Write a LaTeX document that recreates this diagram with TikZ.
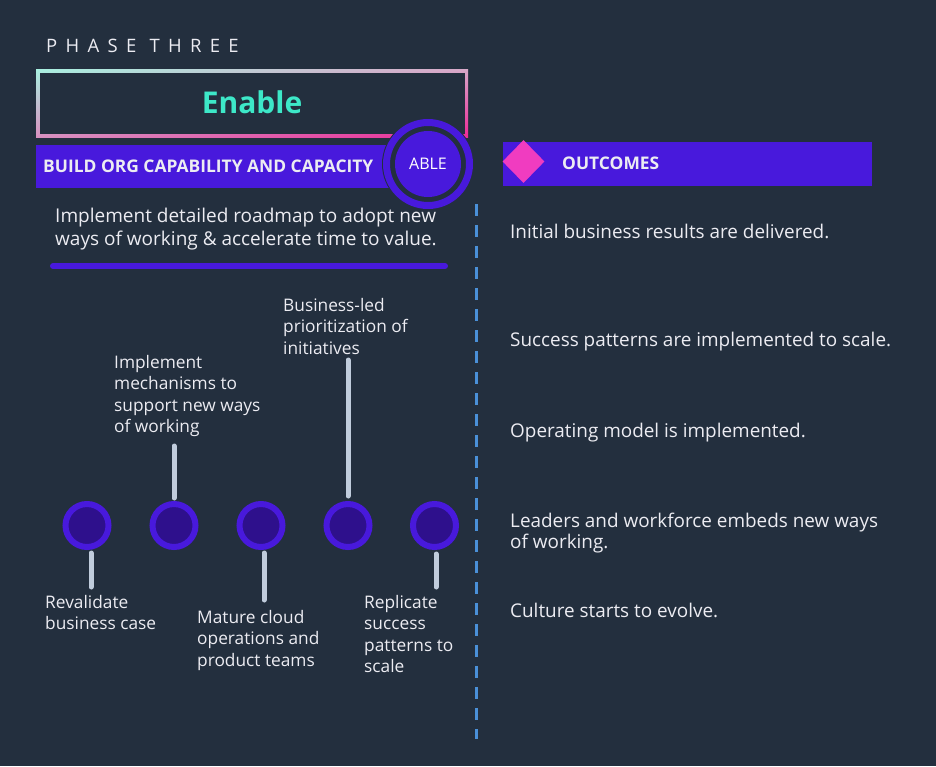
\documentclass[tikz,border=0pt]{standalone}
\usepackage{fontspec}
\setmainfont{Open Sans}
\usetikzlibrary{shapes.geometric,shadings}
\definecolor{bg}{HTML}{232F3E}
\definecolor{purp}{HTML}{4819DC}
\definecolor{darkpurp}{HTML}{2E108C}
\definecolor{pinkd}{HTML}{F03CC0}
\definecolor{txt}{HTML}{ECECF2}
\definecolor{teal}{HTML}{3DE8C8}
\definecolor{conn}{HTML}{C0CCDC}
\definecolor{dashblue}{HTML}{4A90D8}
\definecolor{gUL}{HTML}{A8F0E0}
\definecolor{gUR}{HTML}{D8A8C8}
\definecolor{gLL}{HTML}{D890C0}
\definecolor{gLR}{HTML}{EC2A98}
\newcommand{\fl}{\rule{0pt}{15pt}}
\tikzset{
  body/.style={text=txt, inner sep=0pt, anchor=north west, align=left,
    font=\fontsize{17.3}{21.5}\selectfont},
  outtext/.style={body, font=\fontsize{18.9}{21.5}\selectfont},
  stepdot/.style={circle, draw=purp, line width=6pt, fill=darkpurp,
    minimum size=43pt, inner sep=0pt},
  connline/.style={draw=conn, line width=5pt, line cap=round},
}
\begin{document}
\begin{tikzpicture}[x=1pt,y=-1pt]
\fill[bg] (0,0) rectangle (936,766);
\useasboundingbox (0,0) rectangle (936,766);

% title
\node[anchor=base west, inner sep=0pt, text=txt,
  font=\fontsize{18.5}{20}\selectfont\addfontfeature{LetterSpace=45}] (phase) at (46,52) {PHASE THREE};

% gradient box
\shade[upper left=gUL, upper right=gUR, lower left=gLL, lower right=gLR] (36,69) rectangle (468,137);
\fill[bg] (39.5,72.5) rectangle (464.5,133.5);
\node[inner sep=0pt, text=teal, font=\fontsize{30}{32}\selectfont\bfseries] (enable) at (252,102) {Enable};

% banner
\fill[purp] (36,145) rectangle (420,188);
\node[anchor=base west, inner sep=0pt, text=txt, font=\fontsize{17.4}{19}\selectfont\bfseries] (build) at (43,172.5) {BUILD ORG CAPABILITY AND CAPACITY};

% ABLE circle
\fill[bg] (428,164) circle[radius=46];
\draw[purp, line width=7pt] (428,164) circle[radius=41.5];
\node[circle, fill=purp, minimum size=66pt, inner sep=0pt, text=white,
  font=\fontsize{16}{18}\selectfont] (able) at (428,164) {ABLE};

% description
\node[body, font=\fontsize{19}{23}\selectfont] (desc) at (55,207) {\fl Implement detailed roadmap to adopt new\\ways of working \& accelerate time to value.};
\draw[purp, line width=6pt, line cap=round] (53,266) -- (445,266);

% outcomes banner
\fill[purp] (503,142) rectangle (872,186);
\node[diamond, fill=pinkd, minimum width=42pt, minimum height=43pt, inner sep=0pt] (dia) at (523.5,161.5) {};
\node[anchor=base west, inner sep=0pt, text=txt, font=\fontsize{17.4}{19}\selectfont\bfseries] (outc) at (562,169) {OUTCOMES};

% dashed divider
\coordinate (dtop) at (476,204);
\coordinate (dbot) at (476,739);
\draw[dashblue, line width=3pt, dash pattern=on 12pt off 9pt] (dtop) -- (dbot);

% outcomes
\node[outtext] (o1) at (510,223) {\fl Initial business results are delivered.};
\node[outtext] (o2) at (510,331) {\fl Success patterns are implemented to scale.};
\node[outtext] (o3) at (510,422) {\fl Operating model is implemented.};
\node[outtext] (o4) at (510,512) {\fl Leaders and workforce embeds new ways\\of working.};
\node[outtext] (o5) at (510,602) {\fl Culture starts to evolve.};

% step circles
\node[stepdot] (c1) at (87,525.5) {};
\node[stepdot] (c2) at (174,525.5) {};
\node[stepdot] (c3) at (261,525.5) {};
\node[stepdot] (c4) at (348,525.5) {};
\node[stepdot] (c5) at (434.5,525.5) {};

% connector ends
\coordinate (e1) at (91,587);
\coordinate (e2) at (174,446);
\coordinate (e3) at (264,600);
\coordinate (e4) at (348,360);
\coordinate (e5) at (436,587);

\draw[connline] ([xshift=4pt,yshift=-3pt]c1.south) -- (e1);
\draw[connline] ([yshift=3pt]c2.north) -- (e2);
\draw[connline] ([xshift=3pt,yshift=-3pt]c3.south) -- (e3);
\draw[connline] ([yshift=5pt]c4.north) -- (e4);
\draw[connline] ([xshift=1.5pt,yshift=-4pt]c5.south) -- (e5);

% labels
\node[body] (l1) at (45,593) {\fl Revalidate\\business case};
\node[body] (l2) at (114,353) {\fl Implement\\mechanisms to\\support new ways\\of working};
\node[body] (l3) at (197,608) {\fl Mature cloud\\operations and\\product teams};
\node[body] (l4) at (283,296) {\fl Business-led\\prioritization of\\initiatives};
\node[body] (l5) at (364,593) {\fl Replicate\\success\\patterns to\\scale};
\end{tikzpicture}
\end{document}
